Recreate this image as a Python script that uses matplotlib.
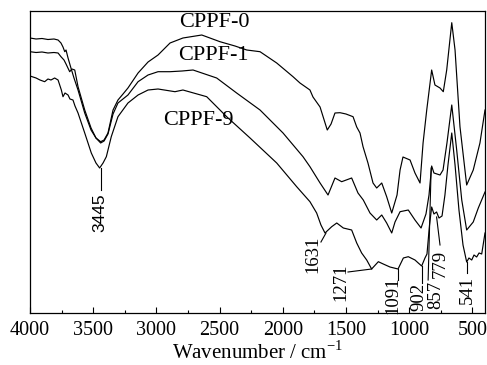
import matplotlib
matplotlib.use("Agg")
from matplotlib import pyplot as plt
from matplotlib.ticker import MultipleLocator

# FTIR spectra, wavenumber (cm-1) vs transmittance (a.u.)
wn_0 = [4000, 3952, 3905, 3858, 3810, 3778, 3755, 3739, 3725, 3715, 3699, 3676, 3652,
        3620, 3567, 3517, 3478, 3441, 3414, 3383, 3343, 3304, 3264, 3225, 3145, 3066,
        2987, 2892, 2790, 2641, 2497, 2378, 2285, 2180, 2048, 1919, 1864, 1785, 1761,
        1705, 1648, 1618, 1587, 1547, 1500, 1444, 1415, 1389, 1365, 1326, 1286, 1257,
        1217, 1178, 1138, 1096, 1072, 1049, 993, 954, 914, 890, 861, 822, 796, 756,
        730, 703, 663, 637, 598, 545, 493, 440, 400]
t_0 = [275, 274, 274.5, 273.5, 274, 273, 270, 266, 261.3, 263, 255, 245, 235,
       223, 200, 183, 175, 171.3, 173, 180, 203, 213, 219, 225, 240, 251,
       258, 270, 275, 278, 271.3, 267, 263, 261.3, 250, 236.3, 230, 223, 216,
       206, 183, 189, 200, 200.3, 199, 196.3, 186, 180, 166.3, 150, 130, 125,
       130, 116.3, 100, 118, 143, 156, 153, 140, 130, 170, 203, 243, 228, 225,
       221.3, 243, 290.3, 263, 186.3, 128, 143, 170, 203]

wn_1 = [4000, 3952, 3905, 3858, 3810, 3778, 3755, 3731, 3715, 3686, 3668, 3646, 3620,
        3567, 3517, 3478, 3441, 3414, 3383, 3343, 3304, 3225, 3145, 3066, 2987, 2892,
        2797, 2710, 2523, 2365, 2180, 1998, 1840, 1785, 1705, 1642, 1587, 1534, 1455,
        1405, 1363, 1310, 1257, 1217, 1178, 1138, 1112, 1072, 1007, 954, 906, 867,
        843, 822, 804, 756, 732, 701, 663, 624, 584, 545, 493, 453, 400]
t_1 = [261.3, 260.5, 261, 260, 260.5, 260, 256.3, 253, 249, 241.3, 244, 243, 226.3,
       203, 185, 175, 170, 172, 179, 199, 210, 218, 231.3, 238, 241.3, 241.3,
       242, 243, 235, 220, 203, 180, 156.3, 146.3, 130, 118, 135, 131.3, 135,
       120, 113, 100, 93, 98, 90, 80, 91, 101.3, 103, 93, 85, 99,
       118, 147, 140, 138, 143, 170, 208, 163, 113, 83, 91, 105, 121]

wn_9 = [4000, 3952, 3921, 3884, 3858, 3834, 3805, 3778, 3752, 3739, 3723, 3699, 3684,
        3660, 3644, 3620, 3567, 3515, 3478, 3449, 3422, 3396, 3357, 3304, 3225, 3145,
        3066, 2987, 2853, 2790, 2602, 2444, 2259, 2048, 1890, 1785, 1732, 1698, 1666,
        1613, 1573, 1521, 1455, 1415, 1376, 1336, 1297, 1244, 1205, 1152, 1088, 1046,
        1007, 954, 928, 901, 875, 859, 839, 822, 804, 783, 764, 740, 717, 693, 663,
        637, 606, 574, 545, 527, 505, 487, 466, 447, 426, 400]
t_9 = [237, 235, 233, 231.3, 234, 233, 235, 233, 223, 216.3, 220, 218, 214,
       213, 207, 200, 180, 160, 150, 145, 150, 156.3, 176.3, 196.3, 210, 218,
       223, 224, 221.3, 223, 216.3, 196.3, 175, 150, 126.3, 111.3, 100, 88, 80,
       86.3, 90, 85, 83, 70, 60, 53, 44, 51.3, 49, 46, 44, 55,
       56.3, 53, 50, 47, 55, 59, 88, 106, 99, 101, 95, 97, 118, 148, 180,
       148, 103, 68, 51, 55, 53, 58, 56, 60, 59, 80]

series_names = ["CPPF-0", "CPPF-1", "CPPF-9"]

# peak labels: text, label position, leader start, leader end
peaks = [
    ("1631", (1765, 59), (1698, 71), (1658, 80)),
    ("1271", (1543, 31), (1484, 41), (1297, 44)),
    ("1091", (1132, 18), (1088, 33), (1088, 44)),
    ("902", (922, 16), (901, 30), (901, 47)),
    ("857", (788, 18), (850, 33), (826, 145)),
    ("779", (756, 49), (756, 68), (783, 96)),
    ("541", (538, 23), (545, 40), (545, 51)),
]

plt.rcParams["font.family"] = ["Liberation Serif", "DejaVu Serif"]
plt.rcParams["mathtext.fontset"] = "custom"
plt.rcParams["mathtext.rm"] = "Liberation Serif"

fig = plt.figure(figsize=(4.87, 3.65), dpi=100)
ax = fig.add_axes([30 / 487, 1 - 313 / 365, 455 / 487, 302.3 / 365])

for wn, t in [(wn_0, t_0), (wn_1, t_1), (wn_9, t_9)]:
    ax.plot(wn, t, color="black", lw=0.85)

ax.text(2544, 290.5, series_names[0], fontsize=16, ha="center", va="center")
ax.text(2548, 257.5, series_names[1], fontsize=16, ha="center", va="center")
ax.text(2667, 192.5, series_names[2], fontsize=16, ha="center", va="center")

# 3445 label is in a sans face in the original
ax.plot([3441, 3441], [145, 123], color="black", lw=0.8)
ax.text(3446, 100, "3445", rotation=90, fontsize=12.5, ha="center", va="center",
        family=["Liberation Sans", "DejaVu Sans"])

for label, pos, p1, p2 in peaks:
    ax.plot([p1[0], p2[0]], [p1[1], p2[1]], color="black", lw=0.8)
    ax.text(pos[0], pos[1], label, rotation=90, fontsize=13.5, ha="center", va="center")

ax.set_xlim(4000, 400)
ax.set_ylim(0, 302.3)
ax.xaxis.set_major_locator(MultipleLocator(500))
ax.xaxis.set_minor_locator(MultipleLocator(250))
ax.tick_params(axis="x", which="both", direction="in", top=False, labelsize=14.5, pad=5.5)
ax.tick_params(axis="x", which="major", length=4.3, width=0.8)
ax.tick_params(axis="x", which="minor", length=2.4, width=0.8)
ax.tick_params(axis="y", left=False, labelleft=False)
for s in ax.spines.values():
    s.set_linewidth(0.9)

ax.set_xlabel(r"Wavenumber / cm$^{-1}$", fontsize=15, labelpad=1)

fig.savefig("out.png", dpi=100)
